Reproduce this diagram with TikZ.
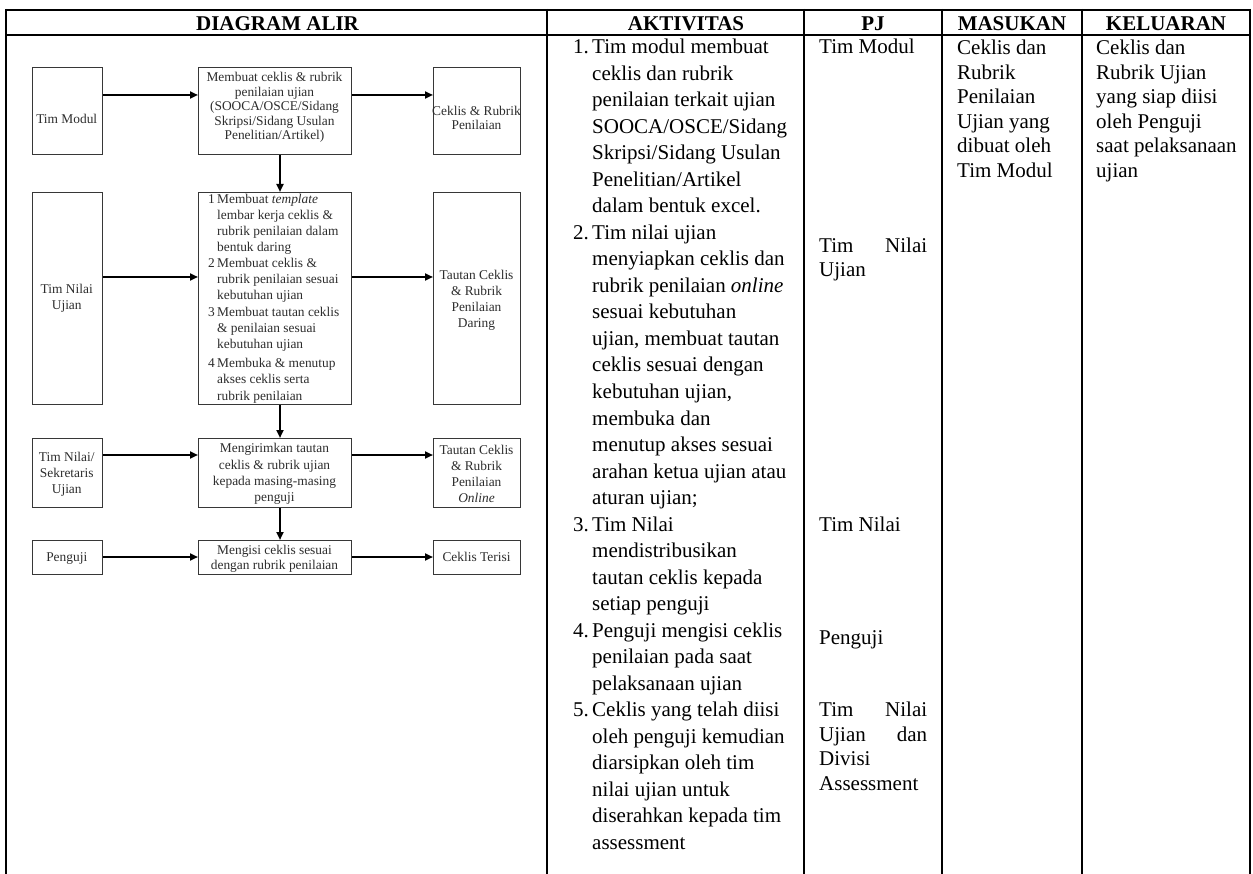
\documentclass[tikz,border=0pt]{standalone}
\usepackage{fontspec}
\setmainfont{Liberation Serif}
\usetikzlibrary{arrows.meta,calc}
\definecolor{boxline}{RGB}{55,55,55}
\definecolor{boxtext}{RGB}{45,45,45}
\begin{document}
\begin{tikzpicture}[x=1pt,y=-1pt,
  grid/.style={line width=2pt,black},
  hdr/.style={font=\fontsize{21}{25}\selectfont\bfseries,anchor=base,inner sep=0pt},
  body/.style={font=\fontsize{21}{25}\selectfont,anchor=base west,inner sep=0pt},
  box/.style={draw=boxline,line width=1.4pt,anchor=north west,inner sep=0pt},
  ftx/.style={font=\fontsize{13.4}{16}\selectfont,text=boxtext,anchor=base,inner sep=0pt},
  ftl/.style={ftx,anchor=base west},
  arr/.style={line width=2.4pt,black,-{Triangle[length=8pt,width=7pt]}}]
\fill[white] (0,0) rectangle (1253,874);
\useasboundingbox (0,0) rectangle (1253,874);

% ---------- table grid ----------
\draw[grid] (5,10) -- (1251,10);
\draw[grid] (5,35.5) -- (1251,35.5);
\foreach \x in {6,547,804,942,1082,1250} \draw[grid] (\x,9) -- (\x,880);

% ---------- headers ----------
\node[hdr] (h1) at (277.5,31) {DIAGRAM ALIR};
\node[hdr] (h2) at (686,31) {AKTIVITAS};
\node[hdr] (h3) at (873,31) {PJ};
\node[hdr] (h4) at (1012,31) {MASUKAN};
\node[hdr] (h5) at (1166,31) {KELUARAN};

% ---------- AKTIVITAS ----------
\foreach \t [count=\i from 0] in {{Tim modul membuat},
 {ceklis dan rubrik},
 {penilaian terkait ujian},
 {SOOCA/OSCE/Sidang},
 {Skripsi/Sidang Usulan},
 {Penelitian/Artikel},
 {dalam bentuk excel.},
 {Tim nilai ujian},
 {menyiapkan ceklis dan},
 {rubrik penilaian \textit{online}},
 {sesuai kebutuhan},
 {ujian, membuat tautan},
 {ceklis sesuai dengan},
 {kebutuhan ujian,},
 {membuka dan},
 {menutup akses sesuai},
 {arahan ketua ujian atau},
 {aturan ujian;},
 {Tim Nilai},
 {mendistribusikan},
 {tautan ceklis kepada},
 {setiap penguji},
 {Penguji mengisi ceklis},
 {penilaian pada saat},
 {pelaksanaan ujian},
 {Ceklis yang telah diisi},
 {oleh penguji kemudian},
 {diarsipkan oleh tim},
 {nilai ujian untuk},
 {diserahkan kepada tim},
 {assessment}}
 \node[body] (ak\i) at (592,{54+26.5*\i}) {\t};
\node[body] (n1) at (573,{54+26.5*0}) {1.};
\node[body] (n2) at (573,{54+26.5*7}) {2.};
\node[body] (n3) at (573,{54+26.5*18}) {3.};
\node[body] (n4) at (573,{54+26.5*22}) {4.};
\node[body] (n5) at (573,{54+26.5*25}) {5.};

% ---------- PJ ----------
\node[body] (pj1) at (819,54) {Tim Modul};
\node[body] (pj2) at (819,253) {\hbox to 108pt{Tim\hfil Nilai}};
\node[body] (pj3) at (819,277) {Ujian};
\node[body] (pj4) at (819,{54+26.5*18}) {Tim Nilai};
\node[body] (pj5) at (819,644) {Penguji};
\node[body] (pj6) at (819,716.5) {\hbox to 108pt{Tim\hfil Nilai}};
\node[body] (pj7) at (819,741) {\hbox to 108pt{Ujian\hfil dan}};
\node[body] (pj8) at (819,765.5) {Divisi};
\node[body] (pj9) at (819,790) {Assessment};

% ---------- MASUKAN / KELUARAN ----------
\foreach \t [count=\i from 0] in {{Ceklis dan},{Rubrik},{Penilaian},{Ujian yang},{dibuat oleh},{Tim Modul}}
 \node[body] (ms\i) at (957,{55+24.5*\i}) {\t};
\foreach \t [count=\i from 0] in {{Ceklis dan},{Rubrik Ujian},{yang siap diisi},{oleh Penguji},{saat pelaksanaan},{ujian}}
 \node[body] (kl\i) at (1096,{55+24.5*\i}) {\t};

% ---------- flowchart boxes ----------
\node[box,minimum width=69.5pt,minimum height=87pt] (L1) at (32,67) {};
\node[box,minimum width=153pt,minimum height=87pt] (M1) at (198,67) {};
\node[box,minimum width=87pt,minimum height=87pt] (R1) at (433,67) {};
\node[box,minimum width=69.5pt,minimum height=212pt] (L2) at (32,192) {};
\node[box,minimum width=153pt,minimum height=212pt] (M2) at (198,192) {};
\node[box,minimum width=87pt,minimum height=212pt] (R2) at (433,192) {};
\node[box,minimum width=69.5pt,minimum height=69pt] (L3) at (32,438) {};
\node[box,minimum width=153pt,minimum height=69pt] (M3) at (198,438) {};
\node[box,minimum width=87pt,minimum height=69pt] (R3) at (433,438) {};
\node[box,minimum width=69.5pt,minimum height=34pt] (L4) at (32,540) {};
\node[box,minimum width=153pt,minimum height=34pt] (M4) at (198,540) {};
\node[box,minimum width=87pt,minimum height=34pt] (R4) at (433,540) {};

% ---------- box texts ----------
\node[ftx] (t11) at (66.75,124) {Tim Modul};
\foreach \t [count=\i from 0] in {{Membuat ceklis \& rubrik},{penilaian ujian},{(SOOCA/OSCE/Sidang},{Skripsi/Sidang Usulan},{Penelitian/Artikel)}}
 \node[ftx] (t12\i) at (274.5,{82+14.5*\i}) {\t};
\node[ftx] (t13a) at (476.5,116) {Ceklis \& Rubrik};
\node[ftx] (t13b) at (476.5,130) {Penilaian};

\node[ftx] (t21a) at (66.75,294) {Tim Nilai};
\node[ftx] (t21b) at (66.75,310) {Ujian};
\node[ftl] (m21) at (208,204) {1};
\node[ftl] (m22) at (208,268) {2};
\node[ftl] (m23) at (208,317) {3};
\node[ftl] (m24) at (208,368) {4};
\node[ftl] (t22a) at (217,204) {Membuat \textit{template}};
\node[ftl] (t22b) at (217,220) {lembar kerja ceklis \&};
\node[ftl] (t22c) at (217,236) {rubrik penilaian dalam};
\node[ftl] (t22d) at (217,252) {bentuk daring};
\node[ftl] (t22e) at (217,268) {Membuat ceklis \&};
\node[ftl] (t22f) at (217,284) {rubrik penilaian sesuai};
\node[ftl] (t22g) at (217,300) {kebutuhan ujian};
\node[ftl] (t22h) at (217,317) {Membuat tautan ceklis};
\node[ftl] (t22i) at (217,333) {\& penilaian sesuai};
\node[ftl] (t22j) at (217,349) {kebutuhan ujian};
\node[ftl] (t22k) at (217,368) {Membuka \& menutup};
\node[ftl] (t22l) at (217,384) {akses ceklis serta};
\node[ftl] (t22m) at (217,400) {rubrik penilaian};
\foreach \t [count=\i from 0] in {{Tautan Ceklis},{\& Rubrik},{Penilaian},{Daring}}
 \node[ftx] (t23\i) at (476.5,{280+16*\i}) {\t};

\foreach \t [count=\i from 0] in {{Tim Nilai/},{Sekretaris},{Ujian}}
 \node[ftx] (t31\i) at (66.75,{461+16*\i}) {\t};
\foreach \t [count=\i from 0] in {{Mengirimkan tautan},{ceklis \& rubrik ujian},{kepada masing-masing},{penguji}}
 \node[ftx] (t32\i) at (274.5,{453+16*\i}) {\t};
\foreach \t [count=\i from 0] in {{Tautan Ceklis},{\& Rubrik},{Penilaian},{\textit{Online}}}
 \node[ftx] (t33\i) at (476.5,{454+16*\i}) {\t};

\node[ftx] (t41) at (66.75,561) {Penguji};
\node[ftx] (t42a) at (274.5,554) {Mengisi ceklis sesuai};
\node[ftx] (t42b) at (274.5,569) {dengan rubrik penilaian};
\node[ftx] (t43) at (476.5,561) {Ceklis Terisi};

% ---------- connectors ----------
\coordinate (y1) at (0,95);
\coordinate (y2) at (0,277);
\coordinate (y3) at (0,455);
\coordinate (y4) at (0,557);
\coordinate (vx) at (280,0);
\foreach \r in {1,2,3,4} {
  \draw[arr] (L\r.east |- y\r) -- (M\r.west |- y\r);
  \draw[arr] (M\r.east |- y\r) -- (R\r.west |- y\r);
}
\draw[arr] (M1.south -| vx) -- (M2.north -| vx);
\draw[arr] (M2.south -| vx) -- (M3.north -| vx);
\draw[arr] (M3.south -| vx) -- (M4.north -| vx);
\end{tikzpicture}
\end{document}
